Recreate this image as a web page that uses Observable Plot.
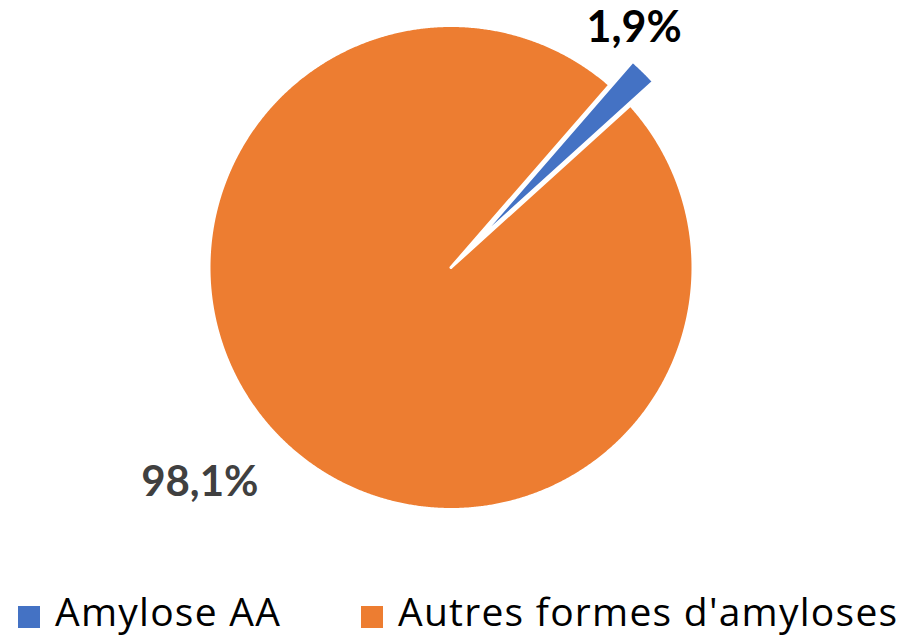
<!DOCTYPE html>
<html>
<head>
<meta charset="utf-8">
<script src="https://cdn.jsdelivr.net/npm/d3@7"></script>
<script src="https://cdn.jsdelivr.net/npm/@observablehq/plot@0.6"></script>
<style>
  html, body { margin: 0; padding: 0; background: #fff; }
  #wrap { position: relative; width: 905px; height: 637px; font-family: Lato, "Noto Sans", sans-serif; }
  #legend { position: absolute; left: 0; top: 580px; width: 905px; height: 57px; }
  .sw { position: absolute; top: 26px; width: 22px; height: 22px; }
  .lbl { position: absolute; top: 8px; font-family: "Open Sans", Lato, sans-serif; font-size: 39px; line-height: 46px; letter-spacing: 1.25px; white-space: nowrap; color: #000; }
</style>
</head>
<body>
<div id="wrap">
  <div id="chart"></div>
  <div id="legend"></div>
</div>
<script>
// ---- data ----
const categories = ["Amylose AA", "Autres formes d'amyloses"];
const values = [1.9, 98.1];
const valueLabels = ["1,9%", "98,1%"];
const colors = ["#4472C4", "#ED7D31"];
const explodeAmount = [0.136, 0];
const startAngleDeg = 41;

// ---- geometry from data ----
const pie = d3.pie().sort(null)
  .startAngle(startAngleDeg * Math.PI / 180)
  .endAngle(startAngleDeg * Math.PI / 180 + 2 * Math.PI);
const arcs = pie(values).map((a, i) => ({
  ...a, category: categories[i], label: valueLabels[i], explode: explodeAmount[i],
  mid: (a.startAngle + a.endAngle) / 2
}));

const pts = [];
for (const a of arcs) {
  const ox = a.explode * Math.sin(a.mid), oy = a.explode * Math.cos(a.mid);
  pts.push({category: a.category, x: ox, y: oy});
  const n = Math.max(8, Math.ceil((a.endAngle - a.startAngle) / 0.005));
  for (let k = 0; k <= n; k++) {
    const t = a.startAngle + (a.endAngle - a.startAngle) * k / n;
    pts.push({category: a.category, x: ox + Math.sin(t), y: oy + Math.cos(t)});
  }
  pts.push({category: a.category, x: ox, y: oy});
}

const labelR = 1.3;
const labelPos = arcs.map(a => ({
  ...a, lx: labelR * Math.sin(a.mid), ly: labelR * Math.cos(a.mid)
}));

const chart = Plot.plot({
  width: 905,
  height: 580,
  marginLeft: 208.5,
  marginRight: 212.5,
  marginTop: 25,
  marginBottom: 71,
  x: {domain: [-1, 1], axis: null},
  y: {domain: [-1, 1], axis: null},
  color: {domain: categories, range: colors},
  style: {fontFamily: "Lato, 'Noto Sans', sans-serif", overflow: "visible"},
  marks: [
    Plot.line(pts, {x: "x", y: "y", z: "category", fill: "category",
      stroke: "white", strokeWidth: 3, strokeLinejoin: "round", curve: "linear"}),
    Plot.text(labelPos.filter(d => d.index === 0), {x: "lx", y: "ly", text: "label",
      fontSize: 43, fontWeight: "bold", fill: "#000", dx: -37, dy: -15,
      textAnchor: "middle", lineAnchor: "middle"}),
    Plot.text(labelPos.filter(d => d.index === 1), {x: "lx", y: "ly", text: "label",
      fontSize: 42, fontWeight: "bold", fill: "#404040", dx: -31, dy: -10,
      textAnchor: "middle", lineAnchor: "middle"})
  ]
});
document.getElementById("chart").appendChild(chart);

// ---- legend ----
const legend = document.getElementById("legend");
const swatchX = [18, 361];
categories.forEach((c, i) => {
  const sw = document.createElement("div");
  sw.className = "sw";
  sw.style.left = swatchX[i] + "px";
  sw.style.background = colors[i];
  legend.appendChild(sw);
  const t = document.createElement("div");
  t.className = "lbl";
  t.style.left = (swatchX[i] + 37) + "px";
  t.textContent = c;
  legend.appendChild(t);
});
</script>
</body>
</html>
